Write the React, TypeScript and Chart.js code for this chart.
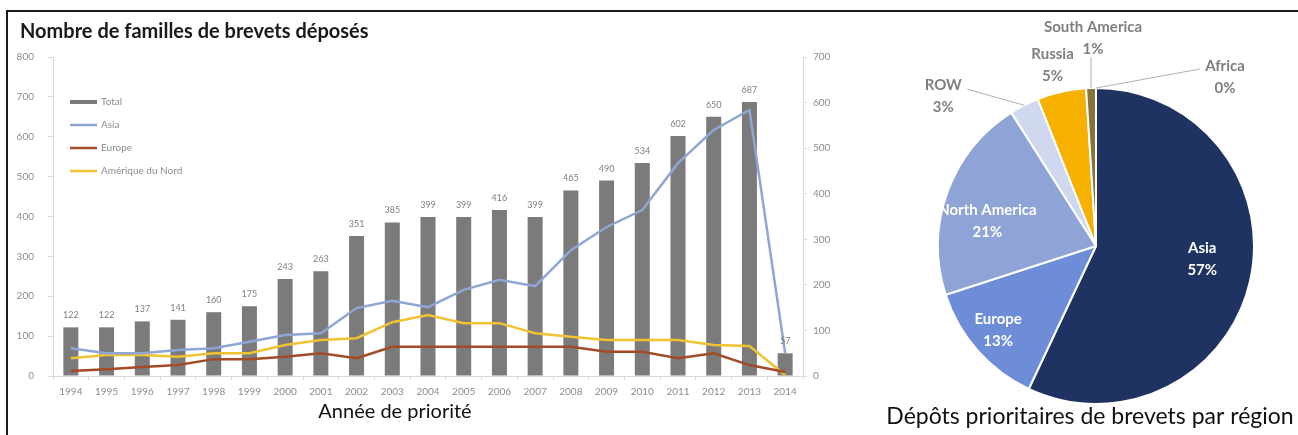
import React, { useEffect, useRef } from "react";
import { Chart, registerables } from "chart.js";

Chart.register(...registerables);

const FONT = "Lato, 'Open Sans', sans-serif";

// ---- Data: left combo chart ----
const years = ["1994", "1995", "1996", "1997", "1998", "1999", "2000", "2001", "2002", "2003", "2004", "2005", "2006", "2007", "2008", "2009", "2010", "2011", "2012", "2013", "2014"];
const totalFamilies = [122, 122, 137, 141, 160, 175, 243, 263, 351, 385, 399, 399, 416, 399, 465, 490, 534, 602, 650, 687, 57];
const asiaFamilies = [61, 50, 50, 57, 61, 75, 90, 94, 149, 165, 151, 189, 211, 197, 276, 327, 364, 467, 540, 584, 50];
const europeFamilies = [11, 15, 20, 24, 37, 37, 42, 50, 39, 64, 64, 64, 64, 64, 64, 53, 53, 39, 50, 24, 9];
const northAmericaFamilies = [39, 46, 46, 42, 50, 50, 68, 79, 83, 118, 134, 116, 116, 94, 86, 79, 79, 79, 68, 66, 2];
const seriesNames = ["Total", "Asia", "Europe", "Amérique du Nord"];
const leftAxisMax = 800;
const rightAxisMax = 700;
const axisStep = 100;

// ---- Data: pie ----
const regionNames = ["Asia", "Europe", "North America", "ROW", "Russia", "South America", "Africa"];
const regionShares = [57, 13, 21, 3, 5, 1, 0];

// ---- Texts ----
const leftTitle = "Nombre de familles de brevets déposés";
const xAxisTitle = "Année de priorité";
const pieTitle = "Dépôts prioritaires de brevets par région";

// ---- Styles ----
const seriesColors = ["#7b7b7b", "#8ea5d6", "#a24b26", "#f1c232"];
const regionColors = ["#1f3362", "#6e8dd8", "#8ea3d6", "#cfd8ee", "#f5b000", "#86733a", "#c8c8c8"];
const tickColor = "#8c8c8c";
const axisColor = "#d9d9d9";

// label placement for pie slices: inside (radius factor) or outside (offset from rim point)
const pieLabelPlacement = [
  { inside: true, factor: 0.65, dx: 6, dy: -9, color: "#ffffff" },
  { inside: true, factor: 0.75, dx: -9, dy: 6, color: "#ffffff" },
  { inside: true, factor: 0.65, dx: -12, dy: 10, color: "#ffffff" },
  { inside: false, factor: 1, dx: -81, dy: -9, color: "#7f7f7f", leader: [24, -7] },
  { inside: false, factor: 1, dx: -9, dy: -27, color: "#7f7f7f" },
  { inside: false, factor: 1, dx: 2, dy: -50, color: "#7f7f7f", leader: [-2, 19] },
  { inside: false, factor: 1, dx: 129, dy: -11, color: "#7f7f7f", leader: [-25, -8] },
];

const barValueLabels = {
  id: "barValueLabels",
  afterDatasetsDraw(chart: any) {
    const ctx = chart.ctx;
    const meta = chart.getDatasetMeta(0);
    const values = chart.data.datasets[0].data;
    ctx.save();
    ctx.font = `9px ${FONT}`;
    ctx.fillStyle = "#7f7f7f";
    ctx.textAlign = "center";
    ctx.textBaseline = "middle";
    meta.data.forEach((el: any, i: number) => {
      ctx.fillText(String(values[i]), el.x, el.y - 12);
    });
    ctx.restore();
  },
};

const innerLegend = {
  id: "innerLegend",
  afterDraw(chart: any) {
    const ctx = chart.ctx;
    const area = chart.chartArea;
    ctx.save();
    ctx.font = `10px ${FONT}`;
    ctx.textBaseline = "middle";
    ctx.textAlign = "left";
    chart.data.datasets.forEach((ds: any, i: number) => {
      const x = area.left + 17;
      const y = area.top + 45 + i * 23;
      ctx.strokeStyle = i === 0 ? ds.backgroundColor : ds.borderColor;
      ctx.lineWidth = i === 0 ? 4 : 2.5;
      ctx.beginPath();
      ctx.moveTo(x, y);
      ctx.lineTo(x + 27, y);
      ctx.stroke();
      ctx.fillStyle = "#8c8c8c";
      ctx.fillText(ds.label, x + 31, y);
    });
    ctx.restore();
  },
};

const leftTexts = {
  id: "leftTexts",
  afterDraw(chart: any) {
    const ctx = chart.ctx;
    ctx.save();
    ctx.fillStyle = "#1a1a1a";
    ctx.textBaseline = "middle";
    ctx.textAlign = "left";
    ctx.font = `bold 20px ${FONT}`;
    ctx.fillText(leftTitle, 20, 32);
    ctx.textAlign = "center";
    ctx.fillStyle = "#111111";
    ctx.font = `20px ${FONT}`;
    ctx.fillText(xAxisTitle, 395, 412);
    ctx.restore();
  },
};

const pieLabels = {
  id: "pieLabels",
  afterDatasetsDraw(chart: any) {
    const ctx = chart.ctx;
    const meta = chart.getDatasetMeta(0);
    const values = chart.data.datasets[0].data;
    ctx.save();
    ctx.textAlign = "center";
    ctx.textBaseline = "middle";
    meta.data.forEach((el: any, i: number) => {
      const p = pieLabelPlacement[i];
      const mid = (el.startAngle + el.endAngle) / 2;
      const r = el.outerRadius * p.factor;
      const rimX = el.x + Math.cos(mid) * el.outerRadius;
      const rimY = el.y + Math.sin(mid) * el.outerRadius;
      const cx = el.x + Math.cos(mid) * r + p.dx;
      const cy = el.y + Math.sin(mid) * r + p.dy;
      if (p.leader) {
        ctx.strokeStyle = "#b0b0b0";
        ctx.lineWidth = 1;
        ctx.beginPath();
        ctx.moveTo(cx + p.leader[0], cy + p.leader[1]);
        ctx.lineTo(rimX, rimY);
        ctx.stroke();
      }
      ctx.fillStyle = p.color;
      ctx.font = `bold 15px ${FONT}`;
      ctx.fillText(chart.data.labels[i], cx, cy - 11);
      ctx.fillText(`${values[i]}%`, cx, cy + 11);
    });
    ctx.restore();
  },
};

const pieTexts = {
  id: "pieTexts",
  afterDraw(chart: any) {
    const ctx = chart.ctx;
    ctx.save();
    ctx.fillStyle = "#111111";
    ctx.textAlign = "center";
    ctx.textBaseline = "middle";
    ctx.font = `23px ${FONT}`;
    ctx.fillText(pieTitle, 220, 417);
    ctx.restore();
  },
};

export default function App() {
  const leftRef = useRef<HTMLCanvasElement>(null);
  const pieRef = useRef<HTMLCanvasElement>(null);

  useEffect(() => {
    const tickFont = { family: FONT, size: 10 };
    const left = new Chart(leftRef.current as HTMLCanvasElement, {
      type: "bar",
      data: {
        labels: years,
        datasets: [
          {
            type: "bar",
            label: seriesNames[0],
            data: totalFamilies,
            backgroundColor: seriesColors[0],
            yAxisID: "y",
            order: 2,
            categoryPercentage: 1,
            barPercentage: 0.42,
          },
          {
            type: "line",
            label: seriesNames[1],
            data: asiaFamilies,
            borderColor: seriesColors[1],
            backgroundColor: seriesColors[1],
            borderWidth: 2.5,
            pointRadius: 0,
            tension: 0,
            yAxisID: "y1",
            order: 1,
          },
          {
            type: "line",
            label: seriesNames[2],
            data: europeFamilies,
            borderColor: seriesColors[2],
            backgroundColor: seriesColors[2],
            borderWidth: 2.5,
            pointRadius: 0,
            tension: 0,
            yAxisID: "y1",
            order: 1,
          },
          {
            type: "line",
            label: seriesNames[3],
            data: northAmericaFamilies,
            borderColor: seriesColors[3],
            backgroundColor: seriesColors[3],
            borderWidth: 2.5,
            pointRadius: 0,
            tension: 0,
            yAxisID: "y1",
            order: 1,
          },
        ] as any,
      },
      options: {
        animation: false,
        responsive: false,
        devicePixelRatio: 1,
        layout: { padding: { left: 0, top: 57, right: 7, bottom: 0 } },
        plugins: { legend: { display: false }, tooltip: { enabled: false }, title: { display: false } },
        scales: {
          x: {
            grid: { display: true, drawOnChartArea: false, drawTicks: true, tickLength: 4, color: axisColor, offset: true },
            border: { color: axisColor },
            ticks: { color: tickColor, font: tickFont, padding: 6, maxRotation: 0, autoSkip: false },
            afterFit: (s: any) => { s.height = 59; },
          },
          y: {
            position: "left",
            min: 0,
            max: leftAxisMax,
            ticks: { stepSize: axisStep, color: tickColor, font: tickFont, padding: 14 },
            grid: { drawOnChartArea: false, tickLength: 5, color: axisColor },
            border: { color: axisColor },
            afterFit: (s: any) => { s.width = 53; },
          },
          y1: {
            position: "right",
            min: 0,
            max: rightAxisMax,
            ticks: { stepSize: axisStep, color: tickColor, font: tickFont, padding: 6 },
            grid: { drawOnChartArea: false, tickLength: 4, color: axisColor },
            border: { color: axisColor },
            afterFit: (s: any) => { s.width = 60; },
          },
        },
      } as any,
      plugins: [barValueLabels, innerLegend, leftTexts],
    });

    const pie = new Chart(pieRef.current as HTMLCanvasElement, {
      type: "pie",
      data: {
        labels: regionNames,
        datasets: [
          {
            data: regionShares,
            backgroundColor: regionColors,
            borderColor: "#ffffff",
            borderWidth: 2,
          },
        ],
      },
      options: {
        animation: false,
        responsive: false,
        devicePixelRatio: 1,
        layout: { padding: { left: 67, top: 87, right: 43, bottom: 30 } },
        plugins: { legend: { display: false }, tooltip: { enabled: false } },
      } as any,
      plugins: [pieLabels, pieTexts],
    });

    return () => {
      left.destroy();
      pie.destroy();
    };
  }, []);

  return (
    <div style={{ position: "absolute", left: 0, top: 0, width: 1298, height: 435, background: "#ffffff", overflow: "hidden" }}>
      <canvas ref={leftRef} width={870} height={435} style={{ position: "absolute", left: 0, top: 0, width: 870, height: 435 }} />
      <canvas ref={pieRef} width={428} height={435} style={{ position: "absolute", left: 870, top: 0, width: 428, height: 435 }} />
      <div style={{ position: "absolute", left: 6, top: 10, width: 1292, height: 425, borderTop: "2px solid #1a1a1a", borderLeft: "2px solid #1a1a1a", pointerEvents: "none" }} />
    </div>
  );
}
